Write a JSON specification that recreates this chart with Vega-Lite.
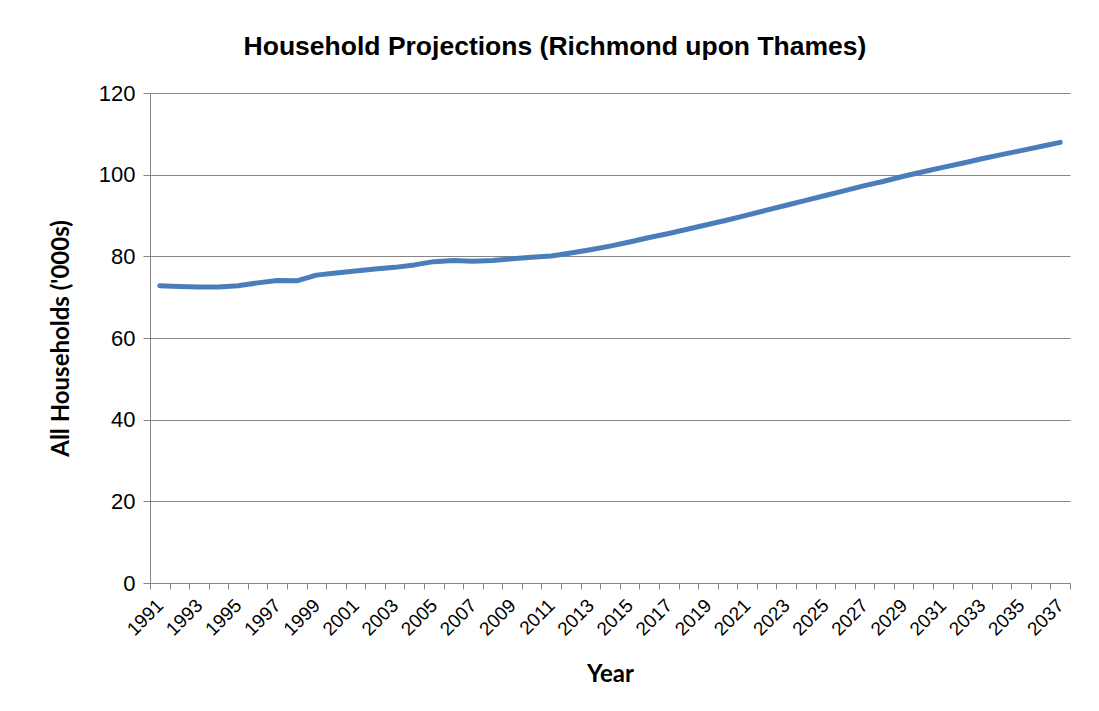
{
  "$schema": "https://vega.github.io/schema/vega-lite/v6.json",
  "autosize": {"type": "none"},
  "width": 920,
  "height": 490,
  "padding": {"left": 150, "top": 93, "right": 29, "bottom": 128},
  "background": "white",
  "title": {
    "text": "Household Projections (Richmond upon Thames)",
    "font": "Liberation Sans",
    "fontSize": 26.5,
    "fontWeight": "bold",
    "color": "black",
    "anchor": "middle",
    "dx": -55,
    "offset": 22
  },
  "config": {
    "view": {"stroke": null},
    "axis": {"labelFont": "Liberation Sans", "labelColor": "black", "titleColor": "black", "domainColor": "#868686", "tickColor": "#868686", "gridColor": "#868686"}
  },
  "data": {
    "values": [
      {"year": 1991, "households": 72.8},
      {"year": 1992, "households": 72.6},
      {"year": 1993, "households": 72.5},
      {"year": 1994, "households": 72.5},
      {"year": 1995, "households": 72.8},
      {"year": 1996, "households": 73.5},
      {"year": 1997, "households": 74.1},
      {"year": 1998, "households": 74.0},
      {"year": 1999, "households": 75.4},
      {"year": 2000, "households": 75.9},
      {"year": 2001, "households": 76.4},
      {"year": 2002, "households": 76.9},
      {"year": 2003, "households": 77.3},
      {"year": 2004, "households": 77.9},
      {"year": 2005, "households": 78.7},
      {"year": 2006, "households": 79.0},
      {"year": 2007, "households": 78.8},
      {"year": 2008, "households": 79.0},
      {"year": 2009, "households": 79.4},
      {"year": 2010, "households": 79.8},
      {"year": 2011, "households": 80.1},
      {"year": 2012, "households": 80.8},
      {"year": 2013, "households": 81.6},
      {"year": 2014, "households": 82.5},
      {"year": 2015, "households": 83.5},
      {"year": 2016, "households": 84.6},
      {"year": 2017, "households": 85.6},
      {"year": 2018, "households": 86.7},
      {"year": 2019, "households": 87.8},
      {"year": 2020, "households": 88.9},
      {"year": 2021, "households": 90.1},
      {"year": 2022, "households": 91.3},
      {"year": 2023, "households": 92.5},
      {"year": 2024, "households": 93.7},
      {"year": 2025, "households": 94.9},
      {"year": 2026, "households": 96.1},
      {"year": 2027, "households": 97.3},
      {"year": 2028, "households": 98.4},
      {"year": 2029, "households": 99.6},
      {"year": 2030, "households": 100.7},
      {"year": 2031, "households": 101.8},
      {"year": 2032, "households": 102.8},
      {"year": 2033, "households": 103.9},
      {"year": 2034, "households": 104.9},
      {"year": 2035, "households": 105.9},
      {"year": 2036, "households": 106.9},
      {"year": 2037, "households": 107.9}
    ]
  },
  "mark": {"type": "line", "color": "#4a7ebb", "strokeWidth": 5, "strokeCap": "round", "strokeJoin": "round"},
  "encoding": {
    "x": {
      "field": "year",
      "type": "quantitative",
      "scale": {"domain": [1990.5, 2037.5], "nice": false, "zero": false},
      "axis": {
        "title": "Year",
        "titleFont": "Lato",
        "titleFontSize": 24,
        "titleFontWeight": "bold",
        "titlePadding": 24,
        "grid": false,
        "values": [1990.5, 1991, 1991.5, 1992.5, 1993, 1993.5, 1994.5, 1995, 1995.5, 1996.5, 1997, 1997.5, 1998.5, 1999, 1999.5, 2000.5, 2001, 2001.5, 2002.5, 2003, 2003.5, 2004.5, 2005, 2005.5, 2006.5, 2007, 2007.5, 2008.5, 2009, 2009.5, 2010.5, 2011, 2011.5, 2012.5, 2013, 2013.5, 2014.5, 2015, 2015.5, 2016.5, 2017, 2017.5, 2018.5, 2019, 2019.5, 2020.5, 2021, 2021.5, 2022.5, 2023, 2023.5, 2024.5, 2025, 2025.5, 2026.5, 2027, 2027.5, 2028.5, 2029, 2029.5, 2030.5, 2031, 2031.5, 2032.5, 2033, 2033.5, 2034.5, 2035, 2035.5, 2036.5, 2037, 2037.5],
        "labelExpr": "datum.value % 1 === 0 ? format(datum.value, 'd') : ''",
        "labelAngle": -45,
        "labelAlign": "right",
        "labelBaseline": "middle",
        "labelFontSize": 19,
        "labelPadding": 13,
        "labelOverlap": false,
        "labelFlush": false,
        "labelBound": false,
        "tickSize": 6,
        "tickOpacity": {"condition": {"test": "datum.value % 1 === 0", "value": 0}, "value": 1}
      }
    },
    "y": {
      "field": "households",
      "type": "quantitative",
      "scale": {"domain": [0, 120], "nice": false},
      "axis": {
        "title": "All Households ('000s)",
        "titleFont": "Lato",
        "titleFontSize": 24,
        "titleFontWeight": "bold",
        "titlePadding": 25,
        "values": [0, 20, 40, 60, 80, 100, 120],
        "labelFontSize": 22,
        "labelPadding": 8,
        "tickSize": 7,
        "grid": true
      }
    }
  }
}
